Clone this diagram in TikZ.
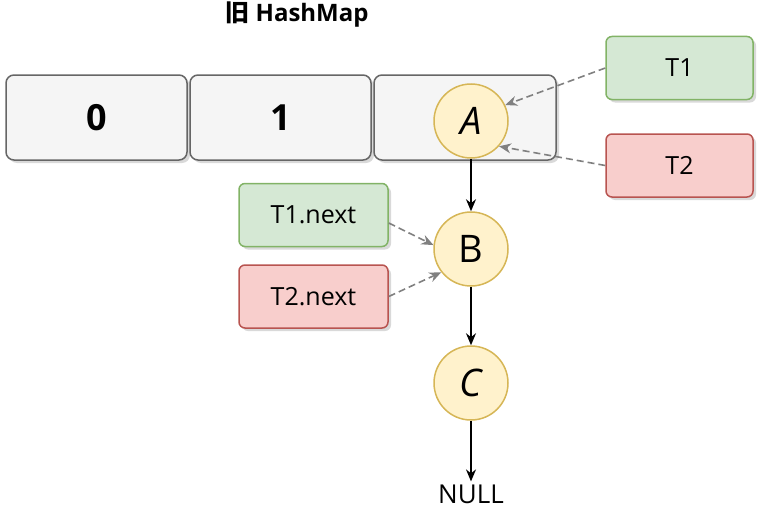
\documentclass[tikz,border=0pt]{standalone}
\usepackage{fontspec}
\setmainfont{Open Sans}
\newfontfamily\cjk{Noto Sans CJK SC}
\usetikzlibrary{arrows.meta,shadows}
\definecolor{grayfill}{HTML}{F5F5F5}
\definecolor{graystroke}{HTML}{666666}
\definecolor{greenfill}{HTML}{D5E8D4}
\definecolor{greenstroke}{HTML}{82B366}
\definecolor{redfill}{HTML}{F8CECC}
\definecolor{redstroke}{HTML}{B85450}
\definecolor{yelfill}{HTML}{FFF2CC}
\definecolor{yelstroke}{HTML}{D6B656}
\definecolor{dashgray}{HTML}{808080}
\begin{document}
\begin{tikzpicture}[x=1pt,y=-1pt,
  shad/.style={drop shadow={shadow xshift=3pt,shadow yshift=-3pt,fill=black,opacity=0.15}},
  cell/.style={draw=graystroke,fill=grayfill,rounded corners=8pt,minimum height=85pt,line width=1.5pt,shad,font=\bfseries\fontsize{36}{36}\selectfont},
  thr/.style={rounded corners=6pt,minimum width=147pt,minimum height=63pt,line width=1.5pt,shad,font=\fontsize{25}{25}\selectfont},
  gbox/.style={thr,draw=greenstroke,fill=greenfill},
  rbox/.style={thr,draw=redstroke,fill=redfill},
  ent/.style={circle,draw=yelstroke,fill=yelfill,line width=1.5pt,minimum size=74pt,inner sep=0pt,font=\fontsize{38}{38}\selectfont},
  link/.style={-{Stealth[length=12pt,width=10pt]},line width=1.5pt,black},
  ptr/.style={-{Stealth[length=12pt,width=10pt]},line width=1.6pt,dashgray,dash pattern=on 7pt off 4pt}]
\useasboundingbox (0,0) rectangle (759,511);
\node[font=\bfseries\fontsize{24}{24}\selectfont] (title) at (297,15) {{\cjk 旧} HashMap};
\node[cell,minimum width=181pt] (c0) at (96.5,117.5) {0};
\node[cell,minimum width=181pt] (c1) at (280.5,117.5) {1};
\node[cell,minimum width=182pt] (c2) at (465,117.5) {};
\node[ent] (A) at (471,121) {\itshape A};
\node[ent] (B) at (471,249) {B};
\node[ent] (C) at (471,383) {\itshape C};
\node[font=\fontsize{26}{26}\selectfont,inner sep=0pt] (null) at (471,494) {NULL};
\node[gbox] (t1) at (679.5,68) {T1};
\node[rbox] (t2) at (679.5,165.5) {T2};
\node[gbox,minimum width=149pt] (t1n) at (313.5,215) {T1.next};
\node[rbox,minimum width=149pt] (t2n) at (313.5,296.5) {T2.next};
\draw[link] (A) -- (B);
\draw[link] (B) -- (C);
\draw[link,shorten >=3pt] (C) -- (null);
\draw[ptr] (t1.west) -- (A.25);
\draw[ptr] (t2.west) -- (A.-42);
\draw[ptr] ([yshift=-8pt]t1n.east) -- (B.174);
\draw[ptr] (t2n.east) -- (B.218);
\end{tikzpicture}
\end{document}
